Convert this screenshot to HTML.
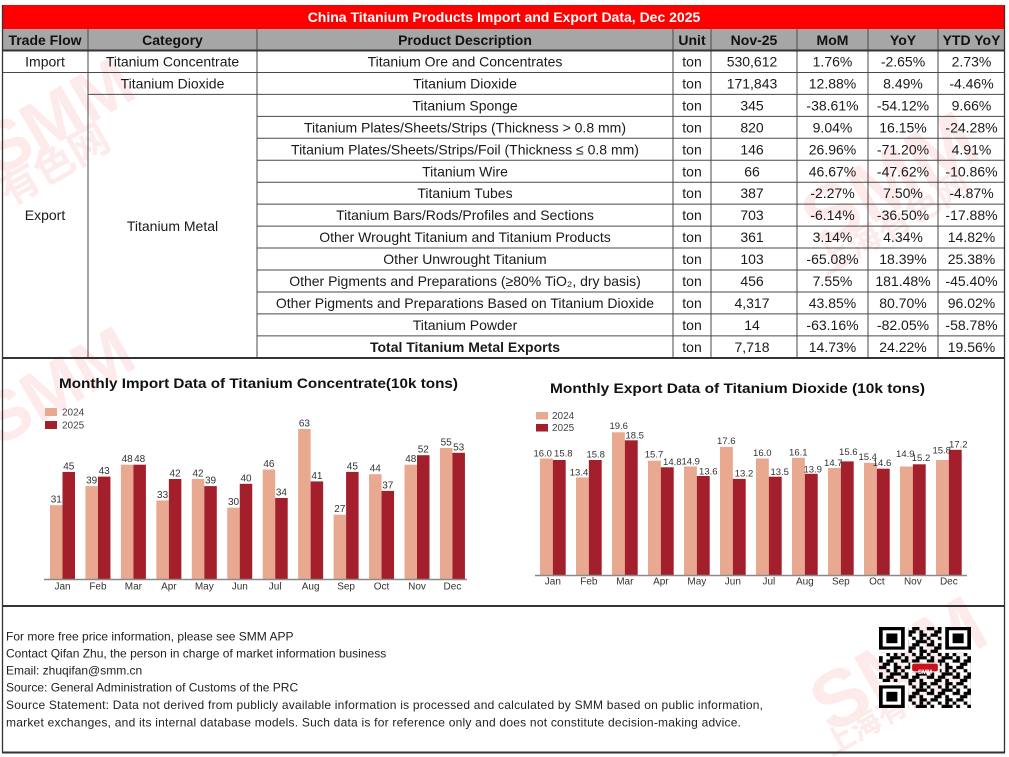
<!DOCTYPE html>
<html><head><meta charset="utf-8"><style>
html,body{margin:0;padding:0;background:#fff;}
svg{display:block;}
text{font-family:"Liberation Sans","Noto Sans CJK SC",sans-serif;}
</style></head><body>
<svg width="1009" height="757" viewBox="0 0 1009 757" xmlns="http://www.w3.org/2000/svg">
<rect width="1009" height="757" fill="#fff"/>
<!-- watermarks -->
<g fill="#fdeaea" font-weight="bold" font-family="Liberation Sans, Noto Sans CJK SC, sans-serif">
<text x="-20" y="150" font-size="70" transform="rotate(-30 40 130)">SMM</text>
<text x="-10" y="185" font-size="40" transform="rotate(-30 40 160)">有色网</text>
<text x="-20" y="420" font-size="70" transform="rotate(-30 40 400)">SMM</text>
<text x="790" y="210" font-size="80" transform="rotate(-30 880 170)">SMM</text>
<text x="800" y="240" font-size="34" transform="rotate(-30 880 210)">上海有色网</text>
<text x="800" y="700" font-size="80" transform="rotate(-30 880 660)">SMM</text>
<text x="810" y="725" font-size="30" transform="rotate(-30 880 700)">上海有色网</text>
</g>

<!-- title band -->
<rect x="3" y="5" width="1002" height="24" fill="#fe0000"/>
<text x="504" y="22" text-anchor="middle" font-size="14" font-weight="bold" fill="#fff">China Titanium Products Import and Export Data, Dec 2025</text>
<!-- header -->
<rect x="2.5" y="29" width="1002.5" height="21.5" fill="#a6a6a6"/>
<g font-size="14" font-weight="bold" fill="#111" text-anchor="middle">
<text x="45" y="45">Trade Flow</text>
<text x="172.5" y="45">Category</text>
<text x="465" y="45">Product Description</text>
<text x="692" y="45">Unit</text>
<text x="754" y="45">Nov-25</text>
<text x="832.5" y="45">MoM</text>
<text x="903" y="45">YoY</text>
<text x="971.5" y="45">YTD YoY</text>
</g>

<!-- table lines -->
<g stroke="#4a4a4a" stroke-width="1">
<line x1="88" y1="29" x2="88" y2="358"/>
<line x1="257" y1="29" x2="257" y2="358"/>
<line x1="673" y1="29" x2="673" y2="358"/>
<line x1="711" y1="29" x2="711" y2="358"/>
<line x1="797" y1="29" x2="797" y2="358"/>
<line x1="868" y1="29" x2="868" y2="358"/>
<line x1="938" y1="29" x2="938" y2="358"/>
<line x1="2" y1="72.45" x2="1005" y2="72.45"/>
<line x1="88" y1="94.4" x2="1005" y2="94.4"/>
<line x1="257" y1="116.35" x2="1005" y2="116.35"/>
<line x1="257" y1="138.3" x2="1005" y2="138.3"/>
<line x1="257" y1="160.25" x2="1005" y2="160.25"/>
<line x1="257" y1="182.2" x2="1005" y2="182.2"/>
<line x1="257" y1="204.15" x2="1005" y2="204.15"/>
<line x1="257" y1="226.1" x2="1005" y2="226.1"/>
<line x1="257" y1="248.05" x2="1005" y2="248.05"/>
<line x1="257" y1="270" x2="1005" y2="270"/>
<line x1="257" y1="291.95" x2="1005" y2="291.95"/>
<line x1="257" y1="313.9" x2="1005" y2="313.9"/>
<line x1="257" y1="335.85" x2="1005" y2="335.85"/>
</g>
<g stroke="#333" stroke-width="2">
<line x1="2" y1="50.5" x2="1005" y2="50.5"/>
<line x1="2" y1="358" x2="1005" y2="358"/>
<line x1="2" y1="606" x2="1005" y2="606"/>
<line x1="2" y1="752.5" x2="1005" y2="752.5"/>
</g>
<g stroke="#333" stroke-width="1.3">
<line x1="2.5" y1="5" x2="2.5" y2="753"/>
<line x1="1004.5" y1="5" x2="1004.5" y2="753"/>
</g>

<!-- table text -->
<g font-size="14" fill="#1a1a1a" text-anchor="middle">
<text x="45" y="66.5">Import</text>
<text x="45" y="220">Export</text>
<text x="172.5" y="66.5">Titanium Concentrate</text>
<text x="172.5" y="88.45">Titanium Dioxide</text>
<text x="172.5" y="231">Titanium Metal</text>

<text x="465" y="66.5">Titanium Ore and Concentrates</text>
<text x="465" y="88.45">Titanium Dioxide</text>
<text x="465" y="110.4">Titanium Sponge</text>
<text x="465" y="132.35">Titanium Plates/Sheets/Strips (Thickness &gt; 0.8 mm)</text>
<text x="465" y="154.3">Titanium Plates/Sheets/Strips/Foil (Thickness ≤ 0.8 mm)</text>
<text x="465" y="176.25">Titanium Wire</text>
<text x="465" y="198.2">Titanium Tubes</text>
<text x="465" y="220.15">Titanium Bars/Rods/Profiles and Sections</text>
<text x="465" y="242.1">Other Wrought Titanium and Titanium Products</text>
<text x="465" y="264.05">Other Unwrought Titanium</text>
<text x="465" y="286">Other Pigments and Preparations (≥80% TiO₂, dry basis)</text>
<text x="465" y="307.95">Other Pigments and Preparations Based on Titanium Dioxide</text>
<text x="465" y="329.9">Titanium Powder</text>
<text x="465" y="351.85" font-weight="bold">Total Titanium Metal Exports</text>

<g>
<text x="692" y="66.5">ton</text><text x="692" y="88.45">ton</text><text x="692" y="110.4">ton</text><text x="692" y="132.35">ton</text><text x="692" y="154.3">ton</text><text x="692" y="176.25">ton</text><text x="692" y="198.2">ton</text><text x="692" y="220.15">ton</text><text x="692" y="242.1">ton</text><text x="692" y="264.05">ton</text><text x="692" y="286">ton</text><text x="692" y="307.95">ton</text><text x="692" y="329.9">ton</text><text x="692" y="351.85">ton</text>
</g>
<g>
<text x="752" y="66.5">530,612</text><text x="752" y="88.45">171,843</text><text x="752" y="110.4">345</text><text x="752" y="132.35">820</text><text x="752" y="154.3">146</text><text x="752" y="176.25">66</text><text x="752" y="198.2">387</text><text x="752" y="220.15">703</text><text x="752" y="242.1">361</text><text x="752" y="264.05">103</text><text x="752" y="286">456</text><text x="752" y="307.95">4,317</text><text x="752" y="329.9">14</text><text x="752" y="351.85">7,718</text>
</g>
<g>
<text x="832.5" y="66.5">1.76%</text><text x="832.5" y="88.45">12.88%</text><text x="832.5" y="110.4">-38.61%</text><text x="832.5" y="132.35">9.04%</text><text x="832.5" y="154.3">26.96%</text><text x="832.5" y="176.25">46.67%</text><text x="832.5" y="198.2">-2.27%</text><text x="832.5" y="220.15">-6.14%</text><text x="832.5" y="242.1">3.14%</text><text x="832.5" y="264.05">-65.08%</text><text x="832.5" y="286">7.55%</text><text x="832.5" y="307.95">43.85%</text><text x="832.5" y="329.9">-63.16%</text><text x="832.5" y="351.85">14.73%</text>
</g>
<g>
<text x="903" y="66.5">-2.65%</text><text x="903" y="88.45">8.49%</text><text x="903" y="110.4">-54.12%</text><text x="903" y="132.35">16.15%</text><text x="903" y="154.3">-71.20%</text><text x="903" y="176.25">-47.62%</text><text x="903" y="198.2">7.50%</text><text x="903" y="220.15">-36.50%</text><text x="903" y="242.1">4.34%</text><text x="903" y="264.05">18.39%</text><text x="903" y="286">181.48%</text><text x="903" y="307.95">80.70%</text><text x="903" y="329.9">-82.05%</text><text x="903" y="351.85">24.22%</text>
</g>
<g>
<text x="971.5" y="66.5">2.73%</text><text x="971.5" y="88.45">-4.46%</text><text x="971.5" y="110.4">9.66%</text><text x="971.5" y="132.35">-24.28%</text><text x="971.5" y="154.3">4.91%</text><text x="971.5" y="176.25">-10.86%</text><text x="971.5" y="198.2">-4.87%</text><text x="971.5" y="220.15">-17.88%</text><text x="971.5" y="242.1">14.82%</text><text x="971.5" y="264.05">25.38%</text><text x="971.5" y="286">-45.40%</text><text x="971.5" y="307.95">96.02%</text><text x="971.5" y="329.9">-58.78%</text><text x="971.5" y="351.85">19.56%</text>
</g>
</g>

<!-- LEFT CHART -->
<text x="258.5" y="388" text-anchor="middle" font-size="14" font-weight="bold" fill="#111" textLength="399" lengthAdjust="spacingAndGlyphs">Monthly Import Data of Titanium Concentrate(10k tons)</text>
<rect x="45" y="408" width="12" height="8" fill="#e8a990"/>
<rect x="45" y="421" width="12" height="8" fill="#a31f2b"/>
<text x="62" y="415.5" font-size="10" fill="#444">2024</text>
<text x="62" y="428.5" font-size="10" fill="#444">2025</text>
<g fill="#e8a990">
<rect x="50" y="505.2" width="12.5" height="73.8"/>
<rect x="85.45" y="486.1" width="12.5" height="92.9"/>
<rect x="120.9" y="464.7" width="12.5" height="114.3"/>
<rect x="156.35" y="500.4" width="12.5" height="78.6"/>
<rect x="191.8" y="479" width="12.5" height="100"/>
<rect x="227.25" y="507.6" width="12.5" height="71.4"/>
<rect x="262.7" y="469.5" width="12.5" height="109.5"/>
<rect x="298.15" y="429" width="12.5" height="150"/>
<rect x="333.6" y="514.7" width="12.5" height="64.3"/>
<rect x="369.05" y="474.2" width="12.5" height="104.8"/>
<rect x="404.5" y="464.7" width="12.5" height="114.3"/>
<rect x="439.95" y="448" width="12.5" height="131"/>
</g>
<g fill="#a31f2b">
<rect x="62.5" y="471.9" width="12.5" height="107.1"/>
<rect x="97.95" y="476.6" width="12.5" height="102.4"/>
<rect x="133.4" y="464.7" width="12.5" height="114.3"/>
<rect x="168.85" y="479" width="12.5" height="100"/>
<rect x="204.3" y="486.1" width="12.5" height="92.9"/>
<rect x="239.75" y="483.8" width="12.5" height="95.2"/>
<rect x="275.2" y="498" width="12.5" height="81"/>
<rect x="310.65" y="481.4" width="12.5" height="97.6"/>
<rect x="346.1" y="471.9" width="12.5" height="107.1"/>
<rect x="381.55" y="490.9" width="12.5" height="88.1"/>
<rect x="417" y="455.2" width="12.5" height="123.8"/>
<rect x="452.45" y="452.8" width="12.5" height="126.2"/>
</g>
<line x1="44" y1="579.5" x2="467" y2="579.5" stroke="#8a8a8a" stroke-width="1.5"/>
<g font-size="10" fill="#333" text-anchor="middle">
<text x="56.25" y="502.7">31</text><text x="68.75" y="469.4">45</text>
<text x="91.7" y="483.6">39</text><text x="104.2" y="474.1">43</text>
<text x="127.15" y="462.2">48</text><text x="139.65" y="462.2">48</text>
<text x="162.6" y="497.9">33</text><text x="175.1" y="476.5">42</text>
<text x="198.05" y="476.5">42</text><text x="210.55" y="483.6">39</text>
<text x="233.5" y="505.1">30</text><text x="246" y="481.3">40</text>
<text x="268.95" y="467">46</text><text x="281.45" y="495.5">34</text>
<text x="304.4" y="426.5">63</text><text x="316.9" y="478.9">41</text>
<text x="339.85" y="512.2">27</text><text x="352.35" y="469.4">45</text>
<text x="375.3" y="471.7">44</text><text x="387.8" y="488.4">37</text>
<text x="410.75" y="462.2">48</text><text x="423.25" y="452.7">52</text>
<text x="446.2" y="445.5">55</text><text x="458.7" y="450.3">53</text>
</g>
<g font-size="10" fill="#333" text-anchor="middle">
<text x="62.5" y="589.5">Jan</text><text x="97.95" y="589.5">Feb</text><text x="133.4" y="589.5">Mar</text><text x="168.85" y="589.5">Apr</text><text x="204.3" y="589.5">May</text><text x="239.75" y="589.5">Jun</text><text x="275.2" y="589.5">Jul</text><text x="310.65" y="589.5">Aug</text><text x="346.1" y="589.5">Sep</text><text x="381.55" y="589.5">Oct</text><text x="417" y="589.5">Nov</text><text x="452.45" y="589.5">Dec</text>
</g>

<!-- RIGHT CHART -->
<text x="737.5" y="393" text-anchor="middle" font-size="14" font-weight="bold" fill="#111" textLength="375" lengthAdjust="spacingAndGlyphs">Monthly Export Data of Titanium Dioxide (10k tons)</text>
<rect x="536" y="412" width="12" height="7.5" fill="#e8a990"/>
<rect x="536" y="424" width="12" height="7.5" fill="#a31f2b"/>
<text x="552" y="419" font-size="10" fill="#444">2024</text>
<text x="552" y="431" font-size="10" fill="#444">2025</text>
<g fill="#e8a990">
<rect x="540" y="458.5" width="12.85" height="116.5"/>
<rect x="576" y="477.4" width="12.85" height="97.6"/>
<rect x="612" y="432.3" width="12.85" height="142.7"/>
<rect x="648" y="460.7" width="12.85" height="114.3"/>
<rect x="684" y="466.5" width="12.85" height="108.5"/>
<rect x="720" y="446.9" width="12.85" height="128.1"/>
<rect x="756" y="458.5" width="12.85" height="116.5"/>
<rect x="792" y="457.8" width="12.85" height="117.2"/>
<rect x="828" y="468" width="12.85" height="107"/>
<rect x="864" y="462.9" width="12.85" height="112.1"/>
<rect x="900" y="466.5" width="12.85" height="108.5"/>
<rect x="936" y="460" width="12.85" height="115"/>
</g>
<g fill="#a31f2b">
<rect x="552.85" y="460" width="12.85" height="115"/>
<rect x="588.85" y="460" width="12.85" height="115"/>
<rect x="624.85" y="440.3" width="12.85" height="134.7"/>
<rect x="660.85" y="467.3" width="12.85" height="107.7"/>
<rect x="696.85" y="476" width="12.85" height="99"/>
<rect x="732.85" y="478.9" width="12.85" height="96.1"/>
<rect x="768.85" y="476.7" width="12.85" height="98.3"/>
<rect x="804.85" y="473.8" width="12.85" height="101.2"/>
<rect x="840.85" y="461.4" width="12.85" height="113.6"/>
<rect x="876.85" y="468.7" width="12.85" height="106.3"/>
<rect x="912.85" y="464.3" width="12.85" height="110.7"/>
<rect x="948.85" y="449.8" width="12.85" height="125.2"/>
</g>
<line x1="535" y1="575.5" x2="967" y2="575.5" stroke="#8a8a8a" stroke-width="1.5"/>
<g font-size="9.5" fill="#333" text-anchor="middle">
<text x="542.7" y="456.3">16.0</text><text x="563.3" y="456.3">15.8</text>
<text x="579" y="475.6">13.4</text><text x="595.7" y="457.6">15.8</text>
<text x="618.7" y="429">19.6</text><text x="634.7" y="438.3">18.5</text>
<text x="654" y="457.6">15.7</text><text x="672.3" y="465">14.8</text>
<text x="690.7" y="464.3">14.9</text><text x="708.3" y="474.3">13.6</text>
<text x="726.3" y="444">17.6</text><text x="744" y="476.6">13.2</text>
<text x="762.3" y="456">16.0</text><text x="779.7" y="475">13.5</text>
<text x="798.3" y="455.3">16.1</text><text x="812.7" y="472.3">13.9</text>
<text x="833.3" y="466">14.7</text><text x="848.3" y="455">15.6</text>
<text x="867.7" y="460">15.4</text><text x="882" y="466">14.6</text>
<text x="905.3" y="457">14.9</text><text x="921" y="461">15.2</text>
<text x="941.7" y="453.6">15.8</text><text x="958.3" y="447.6">17.2</text>
</g>
<g font-size="10" fill="#333" text-anchor="middle">
<text x="552.85" y="584.5">Jan</text><text x="588.85" y="584.5">Feb</text><text x="624.85" y="584.5">Mar</text><text x="660.85" y="584.5">Apr</text><text x="696.85" y="584.5">May</text><text x="732.85" y="584.5">Jun</text><text x="768.85" y="584.5">Jul</text><text x="804.85" y="584.5">Aug</text><text x="840.85" y="584.5">Sep</text><text x="876.85" y="584.5">Oct</text><text x="912.85" y="584.5">Nov</text><text x="948.85" y="584.5">Dec</text>
</g>

<!-- FOOTER -->
<g font-size="12" fill="#222">
<text x="6" y="640.5">For more free price information, please see SMM APP</text>
<text x="6" y="657.5">Contact Qifan Zhu, the person in charge of market information business</text>
<text x="6" y="674.5">Email: zhuqifan@smm.cn</text>
<text x="6" y="691.7">Source: General Administration of Customs of the PRC</text>
<text x="6" y="709" textLength="757" lengthAdjust="spacing">Source Statement: Data not derived from publicly available information is processed and calculated by SMM based on public information,</text>
<text x="6" y="726.3" textLength="735" lengthAdjust="spacing">market exchanges, and its internal database models. Such data is for reference only and does not constitute decision-making advice.</text>
</g>

<!-- QR code -->
<defs>
<pattern id="qrp" patternUnits="userSpaceOnUse" x="0" y="0" width="7" height="5">
<rect x="0" y="0" width="1" height="1" fill="#000"/><rect x="2" y="0" width="2" height="1" fill="#000"/><rect x="6" y="0" width="1" height="1" fill="#000"/>
<rect x="1" y="1" width="2" height="1" fill="#000"/><rect x="4" y="1" width="1" height="1" fill="#000"/>
<rect x="0" y="2" width="2" height="1" fill="#000"/><rect x="4" y="2" width="2" height="1" fill="#000"/>
<rect x="2" y="3" width="1" height="1" fill="#000"/><rect x="4" y="3" width="1" height="1" fill="#000"/><rect x="6" y="3" width="1" height="1" fill="#000"/>
<rect x="0" y="4" width="1" height="1" fill="#000"/><rect x="3" y="4" width="3" height="1" fill="#000"/>
</pattern>
</defs>
<g transform="translate(879,627) scale(3.68,3.24)">
<rect x="0" y="0" width="25" height="25" fill="url(#qrp)"/>
<rect x="0" y="0" width="8" height="8" fill="#fff"/>
<rect x="17" y="0" width="8" height="8" fill="#fff"/>
<rect x="0" y="17" width="8" height="8" fill="#fff"/>
<g fill="#000">
<path d="M0 0h7v7h-7z M1 1v5h5v-5z" fill-rule="evenodd"/>
<rect x="2" y="2" width="3" height="3"/>
<path d="M18 0h7v7h-7z M19 1v5h5v-5z" fill-rule="evenodd"/>
<rect x="20" y="2" width="3" height="3"/>
<path d="M0 18h7v7h-7z M1 19v5h5v-5z" fill-rule="evenodd"/>
<rect x="2" y="20" width="3" height="3"/>
</g>
<rect x="8.5" y="11" width="8" height="3" fill="#fff"/>
<rect x="9" y="11.3" width="7" height="2.4" rx="0.6" fill="#c8101e"/>
</g>
<text x="925" y="674" text-anchor="middle" font-size="6" font-weight="bold" fill="#fff">SMM</text>
</svg>
</body></html>
